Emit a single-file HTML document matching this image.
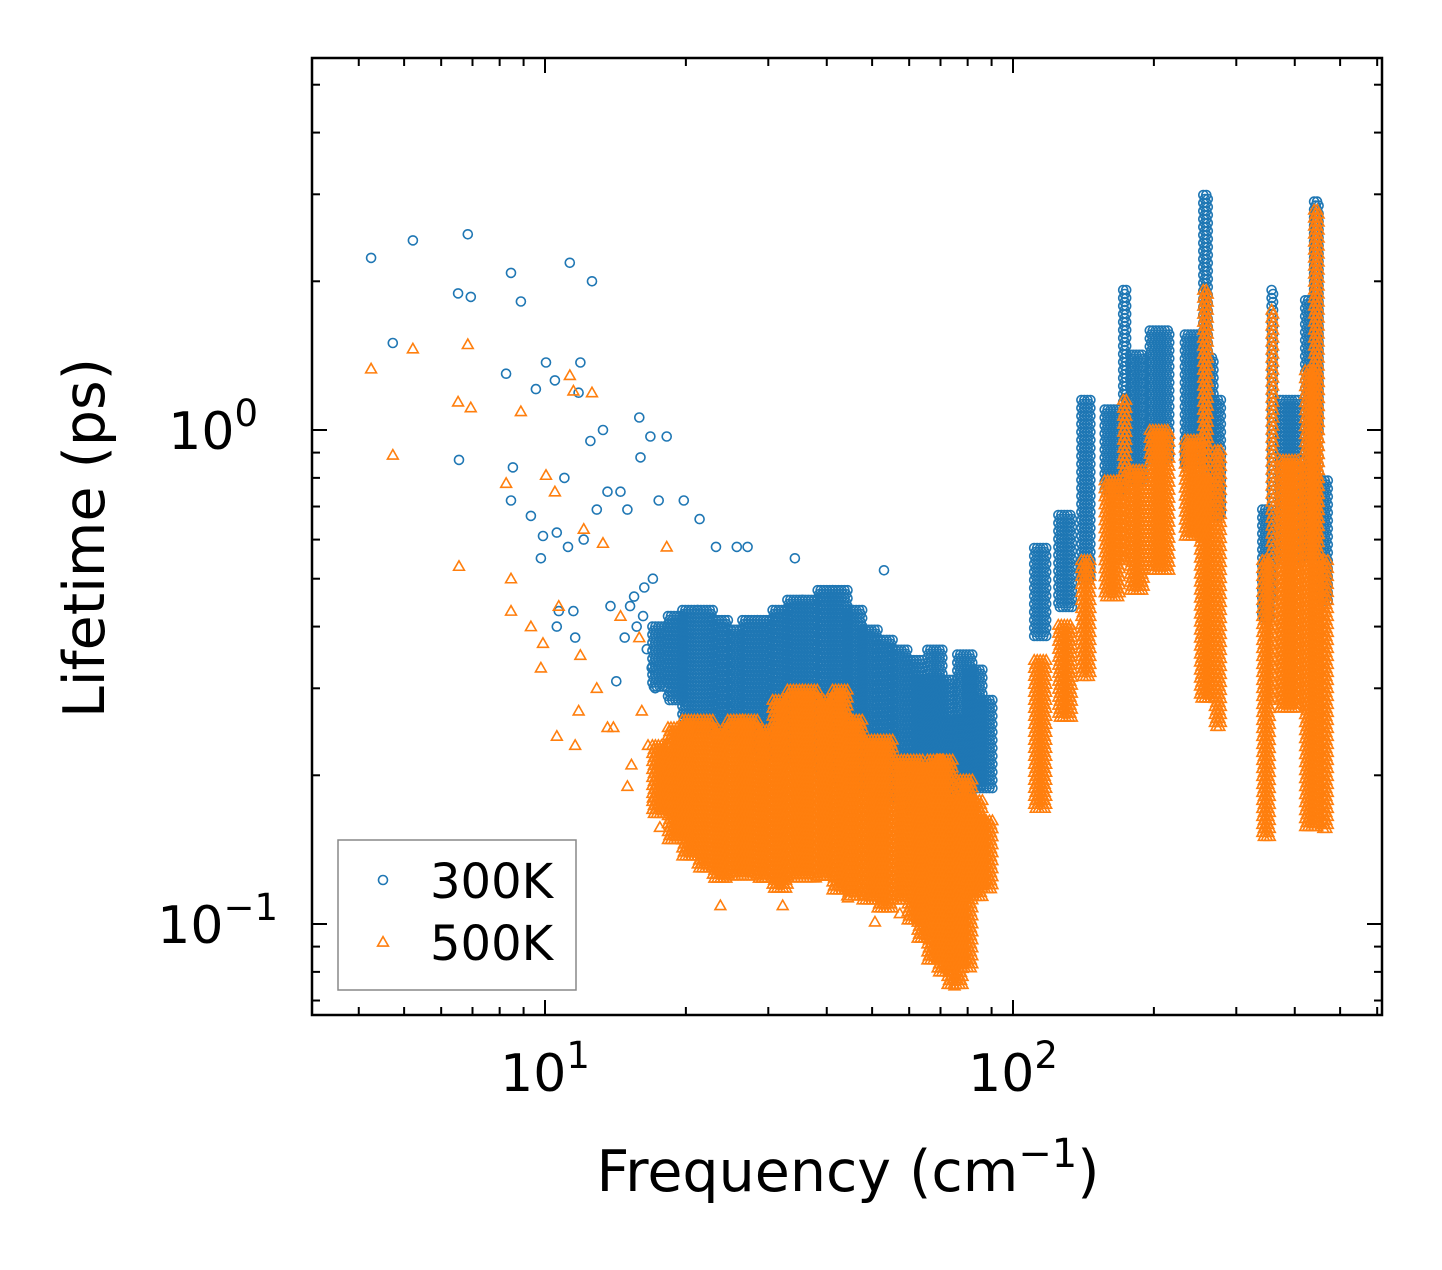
<!DOCTYPE html>
<html><head><meta charset="utf-8">
<style>
html,body{margin:0;padding:0;background:#fff;}
svg text{font-family:"DejaVu Sans","Liberation Sans",sans-serif;fill:#000;}
</style></head>
<body>
<svg id="chart" width="1442" height="1265" xmlns="http://www.w3.org/2000/svg">
<rect x="0" y="0" width="1442" height="1265" fill="#fff"/>
<g id="marks"></g>
<g id="axes"></g>
</svg>
<script>
// ---------- data ----------
const scatterFreq300 = [4.25,4.73,5.22,6.52,6.55,6.84,6.94,8.26,8.46,8.54,8.46,8.88,9.33,9.56,9.8,9.9,10.05,10.5,10.6,10.7,10.6,11.0,11.3,11.2,11.5,11.6,11.8,11.9,12.1,12.5,12.6,12.9,13.3,13.6,13.8,14.5,15.0,15.9,16.0,16.8,17.5,18.2,19.8,21.4,23.2,25.7,27.1,34.2,53.0,14.2,15.5,16.2,17.0,14.8,15.2,16.5,16.9,15.7,16.3,17.2];
const scatterLife300 = [2.23,1.50,2.42,1.89,0.87,2.49,1.86,1.30,2.08,0.84,0.72,1.82,0.67,1.21,0.55,0.61,1.37,1.26,0.62,0.43,0.40,0.80,2.18,0.58,0.43,0.38,1.19,1.37,0.60,0.95,2.0,0.69,1.0,0.75,0.44,0.75,0.69,1.06,0.88,0.97,0.72,0.97,0.72,0.66,0.58,0.58,0.58,0.55,0.52,0.31,0.46,0.42,0.50,0.38,0.44,0.36,0.33,0.40,0.48,0.30];
const scatterFreq500 = [4.25,4.73,5.22,6.52,6.55,6.84,6.94,8.26,8.46,8.46,8.88,9.33,9.8,9.9,10.05,10.5,10.6,10.7,11.3,11.5,11.6,11.8,11.9,12.1,12.6,12.9,13.3,13.6,14.5,15.0,15.9,17.6,18.2,17.6,21.4,23.7,32.2,44.4,50.7,57.3,75.0,14.0,15.3,16.1,16.6,17.0];
const scatterLife500 = [1.33,0.89,1.46,1.14,0.53,1.49,1.11,0.78,0.50,0.43,1.09,0.40,0.33,0.37,0.81,0.75,0.24,0.44,1.29,1.20,0.23,0.27,0.35,0.63,1.19,0.30,0.59,0.25,0.42,0.19,0.38,0.157,0.58,0.21,0.178,0.109,0.109,0.113,0.101,0.105,0.075,0.25,0.21,0.27,0.23,0.18];
// mid-frequency cloud columns
const cloudFreq = [17.6,19.0,20.4,22.0,23.7,25.5,27.4,29.5,31.8,34.2,36.8,39.7,42.7,45.9,49.5,53.3,57.3,61.8,64.9,68.1,71.6,75.2,78.9,82.9,87.1];
const cloudHi300 = [0.40,0.42,0.432,0.432,0.412,0.394,0.412,0.412,0.432,0.453,0.453,0.474,0.474,0.432,0.394,0.376,0.359,0.342,0.312,0.359,0.312,0.259,0.351,0.327,0.284];
const cloudLo300 = [0.30,0.28,0.259,0.247,0.236,0.225,0.225,0.215,0.215,0.205,0.205,0.196,0.196,0.187,0.187,0.178,0.178,0.170,0.141,0.135,0.135,0.148,0.178,0.187,0.187];
const cloudHi500 = [0.23,0.25,0.259,0.259,0.247,0.259,0.259,0.247,0.284,0.298,0.298,0.284,0.298,0.259,0.236,0.236,0.215,0.215,0.205,0.215,0.215,0.178,0.196,0.178,0.162];
const cloudLo500 = [0.165,0.148,0.135,0.129,0.123,0.123,0.123,0.123,0.117,0.123,0.123,0.123,0.117,0.112,0.112,0.107,0.112,0.102,0.093,0.0845,0.080,0.0753,0.0807,0.112,0.117];
// high-frequency dense bands
const bandFLo300 = [111,125,140,157,172,178,196,233,251,255,270,341,357,372,421,440,457];
const bandFHi300 = [118,134,147,169,175,191,216,251,270,262,280,355,362,411,453,450,471];
const bandHi300  = [0.577,0.673,1.15,1.10,1.92,1.42,1.59,1.56,1.40,2.99,1.15,0.69,1.92,1.15,1.83,2.9,0.79];
const bandLo300  = [0.376,0.432,0.497,0.756,0.756,0.792,0.87,0.83,0.83,1.2,0.66,0.41,0.45,0.545,0.545,1.0,0.45];
const bandFLo500 = [111,125,140,157,172,178,196,233,251,255,270,341,357,372,421,440,457];
const bandFHi500 = [118,134,147,169,175,191,216,251,270,262,280,355,362,411,453,450,471];
const bandHi500  = [0.342,0.403,0.545,0.79,1.15,0.83,1.0,0.955,0.80,1.92,0.91,0.545,1.75,0.87,1.32,2.79,0.545];
const bandLo500  = [0.170,0.259,0.312,0.453,0.545,0.474,0.52,0.60,0.284,0.6,0.247,0.148,0.284,0.271,0.155,0.6,0.155];
const xTickVals = [10,100];
const xTickLabels = ['1','2'];
const yTickVals = [1,0.1];
const yTickLabels = ['0','\u22121'];

// ---------- axes ----------
const L=312,R=1382,T=58,B=1015;
const X10=545, DX=468, Y1=430, DY=494;
function xs(f){return X10+(Math.log10(f)-1)*DX;}
function ys(v){return Y1-Math.log10(v)*DY;}
const NS="http://www.w3.org/2000/svg";
const marks=document.getElementById('marks');
const axes=document.getElementById('axes');
function mk(tag,attrs,parent){const e=document.createElementNS(NS,tag);for(const k in attrs)e.setAttribute(k,attrs[k]);parent.appendChild(e);return e;}

const gB=mk('g',{},marks);


const gO=mk('g',{},marks);



function circ(px,py,g){const c=mk('circle',{cx:px.toFixed(1),cy:py.toFixed(1),r:4.5,fill:'none',stroke:'#1f77b4','stroke-width':1.6},g);

}
function tri(px,py,g){const s=5.4;const t=mk('polygon',{points:`${px},${py-s} ${px-s},${py+s*0.75} ${px+s},${py+s*0.75}`,fill:'none',stroke:'#ff7f0e','stroke-width':1.6},g);

}

function fillBand(x0,x1,lo,hi,fn,g){
  const yTop=ys(hi), yBot=ys(lo);
  let row=0;
  for(let y=yTop;y<=yBot+0.1;y+=4,row++){
    const off=(row%2)*1.5;
    for(let x=x0+off;x<=x1+0.1;x+=3){fn(x,y,g);}
  }
}
function drawSeries(sf,sl,cHi,cLo,bfl,bfh,bhi,blo,fn,g){
  for(let i=0;i<cloudFreq.length;i++){
    const xc=xs(cloudFreq[i]);
    fillBand(xc-7.5,xc+7.5,cLo[i],cHi[i],fn,g);
  }
  for(let i=0;i<bfl.length;i++){
    fillBand(xs(bfl[i]),xs(bfh[i]),blo[i],bhi[i],fn,g);
  }
  for(let i=0;i<sf.length;i++) fn(xs(sf[i]),ys(sl[i]),g);
}
drawSeries(scatterFreq300,scatterLife300,cloudHi300,cloudLo300,bandFLo300,bandFHi300,bandHi300,bandLo300,circ,gB);
drawSeries(scatterFreq500,scatterLife500,cloudHi500,cloudLo500,bandFLo500,bandFHi500,bandHi500,bandLo500,tri,gO);

// frame
const fr=mk('rect',{x:L,y:T,width:R-L,height:B-T,fill:'none',stroke:'#000','stroke-width':2.5},axes);


// ticks
function tick(x1,y1,x2,y2){mk('line',{x1,y1,x2,y2,stroke:'#000','stroke-width':2},axes);}
const xMinor=[4,5,6,7,8,9,20,30,40,50,60,70,80,90,200,300,400,500,600];
xMinor.forEach(f=>{const x=xs(f);tick(x,B,x,B-8);tick(x,T,x,T+8);});
xTickVals.forEach((f,i)=>{const x=xs(f);tick(x,B,x,B-15);tick(x,T,x,T+15);
  const t=mk('text',{x:x,y:1091,'font-size':52,'text-anchor':'middle'},axes);
  
  
  t.textContent='10';
  const s=mk('tspan',{dy:-23,'font-size':37},t);s.textContent=xTickLabels[i];});
const yMinor=[0.07,0.08,0.09,0.2,0.3,0.4,0.5,0.6,0.7,0.8,0.9,2,3,4,5];
yMinor.forEach(v=>{const y=ys(v);tick(L,y,L+8,y);tick(R,y,R-8,y);});
yTickVals.forEach((v,i)=>{const y=ys(v);tick(L,y,L+15,y);tick(R,y,R-15,y);
  const t=mk('text',{x:i==0?258:278,y:y+19,'font-size':52,'text-anchor':'end'},axes);
  
  
  t.textContent='10';
  const s=mk('tspan',{dy:-23,'font-size':37},t);s.textContent=yTickLabels[i];});
// axis titles
const xt=mk('text',{x:848,y:1191,'font-size':57,'text-anchor':'middle'},axes);


xt.textContent='Frequency (cm';
const xs1=mk('tspan',{dy:-24,'font-size':40},xt);xs1.textContent='\u22121';
const xs2=mk('tspan',{dy:24},xt);xs2.textContent=')';
const yt=mk('text',{x:0,y:0,'font-size':57,'text-anchor':'middle',transform:'translate(104,538) rotate(-90)'},axes);


yt.textContent='Lifetime (ps)';
// legend
const lg=mk('g',{},axes);


mk('rect',{x:338,y:840,width:238,height:150,fill:'#fff',stroke:'#888','stroke-width':1.5},lg);
const e1=mk('g',{},lg);


circ(383,880,e1);
const t1=mk('text',{x:430,y:898,'font-size':48},e1);t1.textContent='300K';
const e2=mk('g',{},lg);


tri(383,942,e2);
const t2=mk('text',{x:430,y:960,'font-size':48},e2);t2.textContent='500K';
</script>
</body></html>
